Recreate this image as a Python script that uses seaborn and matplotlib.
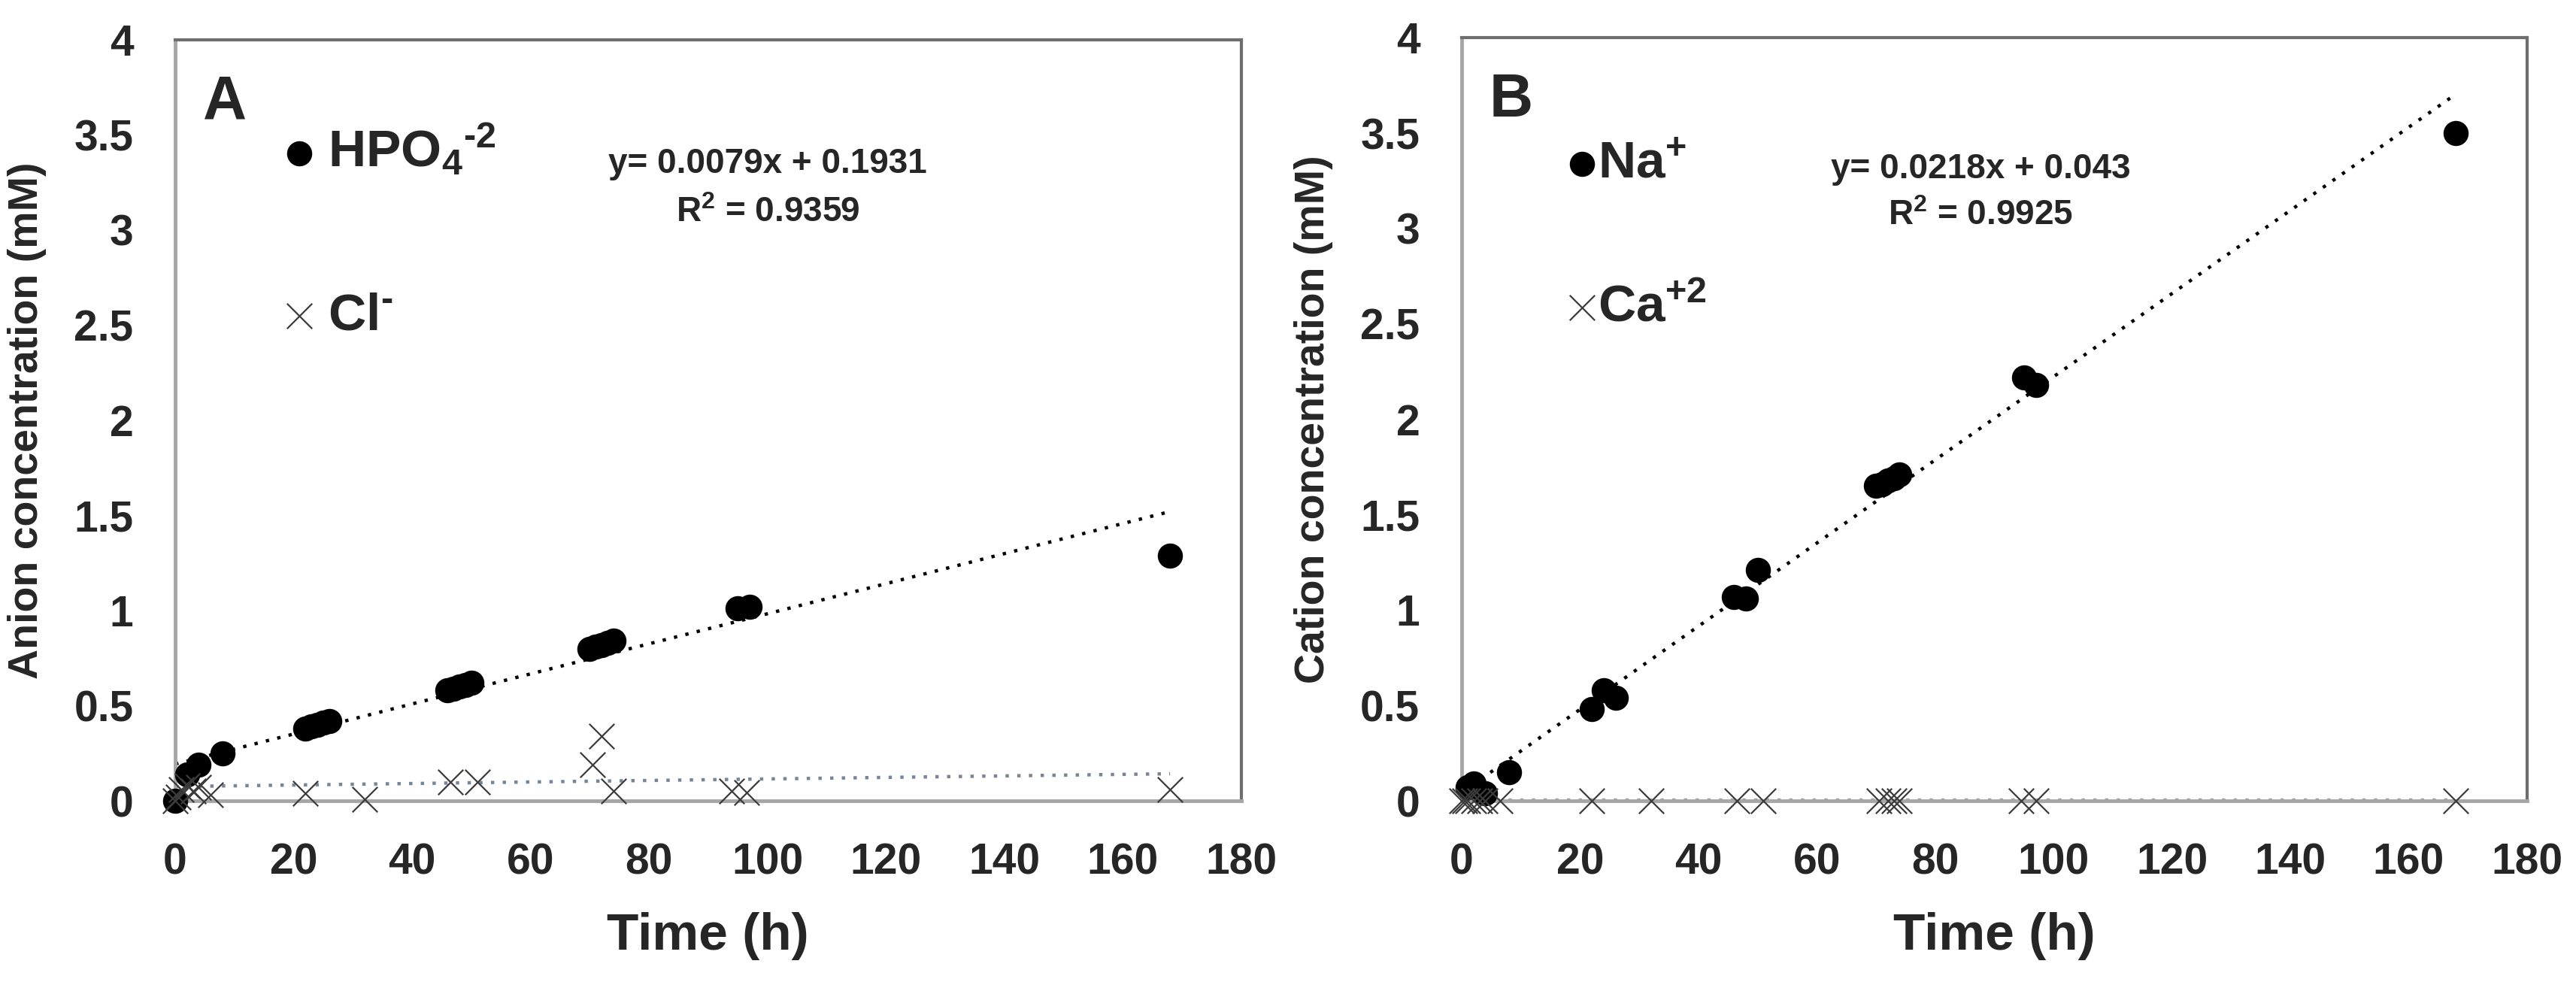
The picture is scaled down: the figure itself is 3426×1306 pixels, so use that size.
#two panel chart: anion (A) and cation (B) release over time with excel style trendlines
import numpy as np
import matplotlib
matplotlib.use('Agg')
import matplotlib.pyplot as plt
import seaborn as sns

#sampling times (h) and concentrations (mM)
hpo4_time = [0, 2, 4, 8, 22, 23, 24, 25, 26, 46, 47, 48, 49, 50, 70, 71, 72, 73, 74, 95, 97, 168]
hpo4_conc = [0.0, 0.14, 0.19, 0.25, 0.38, 0.39, 0.40, 0.41, 0.42, 0.58, 0.59, 0.60, 0.61, 0.62,
             0.80, 0.81, 0.82, 0.83, 0.84, 1.01, 1.02, 1.29]

cl_time = [0, 0.5, 1, 2, 3, 4, 6, 22, 32, 46.5, 51, 70.5, 72, 74, 94, 96.5, 168]
cl_conc = [0.0, 0.02, 0.06, 0.08, 0.05, 0.07, 0.03, 0.04, 0.01, 0.10, 0.10, 0.19, 0.34, 0.05,
           0.05, 0.045, 0.06]

na_time = [1, 2, 4, 8, 22, 24, 26, 46, 48, 50, 70, 71, 72, 73, 74, 95, 97, 168]
na_conc = [0.07, 0.09, 0.04, 0.15, 0.48, 0.58, 0.54, 1.07, 1.06, 1.21, 1.65, 1.66, 1.68, 1.69, 1.71,
           2.22, 2.18, 3.50]

ca_time = [0, 0.5, 1, 2, 3, 4, 6.5, 22, 32, 46.5, 51, 70.5, 72, 73, 74, 94.5, 97, 168]
ca_conc = [0.0, 0.0, 0.0, 0.0, 0.0, 0.0, 0.0, 0.0, 0.0, 0.0, 0.0, 0.0, 0.0, 0.0, 0.0, 0.0, 0.0, 0.0]

#trendlines as (slope, intercept), first two are printed on the chart
hpo4_fit = (0.0079, 0.1931)
na_fit = (0.0218, 0.043)
cl_fit = (0.0004, 0.075)
ca_fit = (0.0, 0.003)
fit_start, fit_end = 0, 168

x_ticks = [0, 20, 40, 60, 80, 100, 120, 140, 160, 180]
y_ticks = [0, 0.5, 1, 1.5, 2, 2.5, 3, 3.5, 4]
y_tick_labels = ['0', '0.5', '1', '1.5', '2', '2.5', '3', '3.5', '4']

#style
sns.set_style('white')
plt.rcParams['font.family'] = ['Liberation Sans', 'DejaVu Sans']
plt.rcParams['font.weight'] = 'bold'
plt.rcParams['mathtext.fontset'] = 'custom'
plt.rcParams['mathtext.rm'] = 'Liberation Sans:bold'
plt.rcParams['mathtext.it'] = 'Liberation Sans:bold'
plt.rcParams['mathtext.bf'] = 'Liberation Sans:bold'
plt.rcParams['mathtext.default'] = 'rm'

fig = plt.figure(figsize=(34.26, 13.06), dpi=100)
fig.patch.set_facecolor('white')

#short hyphen instead of the long math minus, like the excel labels
hy = '\u2010'

panels = [
    dict(rect=[0.068, 0.1845, 0.4138, 0.775], letter='A',
         ylabel='Anion concentration (mM)',
         dots=(hpo4_time, hpo4_conc, r'HPO$_4$$^{' + hy + '2}$', hpo4_fit, 'black'),
         xs=(cl_time, cl_conc, r'Cl$^{' + hy + '}$', cl_fit, '#75869a'),
         eq=('y= 0.0079x + 0.1931', r'R$^2$ = 0.9359'), eq_x=0.556, eq_y=(0.837, 0.773),
         leg=(0.104, 0.892), textpad=0.3, spacing=2.2),
    dict(rect=[0.5674, 0.1845, 0.4136, 0.777], letter='B',
         ylabel='Cation concentration (mM)',
         dots=(na_time, na_conc, r'Na$^{+}$', na_fit, 'black'),
         xs=(ca_time, ca_conc, r'Ca$^{+2}$', ca_fit, '#a0a0a0'),
         eq=('y= 0.0218x + 0.043', r'R$^2$ = 0.9925'), eq_x=0.487, eq_y=(0.828, 0.767),
         leg=(0.101, 0.866), textpad=0.05, spacing=1.83),
]

for p in panels:
    ax = fig.add_axes(p['rect'])

    #trendlines go under the markers
    fit_x = np.array([fit_start, fit_end])
    for series, lw, dash in ((p['dots'], 3.2, (1, 2.5)), (p['xs'], 3.2, (1, 2.5))):
        slope, intercept = series[3]
        ax.plot(fit_x, slope * fit_x + intercept, color=series[4], lw=lw,
                linestyle=(0, dash), dash_capstyle='butt', zorder=2)

    t, c, lab = p['dots'][0], p['dots'][1], p['dots'][2]
    sns.scatterplot(x=t, y=c, ax=ax, marker='o', s=580, color='black', edgecolor='black',
                    linewidth=0, label=lab, clip_on=False, zorder=3)
    t, c, lab = p['xs'][0], p['xs'][1], p['xs'][2]
    sns.scatterplot(x=t, y=c, ax=ax, marker='x', s=580, color='#3c3c3c',
                    linewidth=1.6, label=lab, clip_on=False, zorder=4)

    ax.set_xlim(0, 180)
    ax.set_ylim(0, 4)
    ax.set_xticks(x_ticks)
    ax.set_yticks(y_ticks)
    ax.set_yticklabels(y_tick_labels)
    ax.tick_params(axis='both', length=0, labelsize=41, pad=40)
    for lbl in ax.get_xticklabels() + ax.get_yticklabels():
        lbl.set_fontweight('bold')

    ax.set_xlabel('Time (h)', fontsize=50, fontweight='bold', labelpad=28)
    ax.set_ylabel(p['ylabel'], fontsize=40, fontweight='bold', labelpad=26)

    for side in ['left', 'bottom']:
        ax.spines[side].set_color('#a6a6a6')
        ax.spines[side].set_linewidth(3.5)
    for side in ['top', 'right']:
        ax.spines[side].set_color('#6e6e6e')
        ax.spines[side].set_linewidth(3.0)
    ax.grid(False)

    ax.text(0.026, 0.955, p['letter'], transform=ax.transAxes, fontsize=58,
            fontweight='bold', ha='left', va='top')

    ax.text(p['eq_x'], p['eq_y'][0], p['eq'][0], transform=ax.transAxes, fontsize=33,
            fontweight='bold', ha='center', va='center')
    ax.text(p['eq_x'], p['eq_y'][1], p['eq'][1], transform=ax.transAxes, fontsize=33,
            fontweight='bold', ha='center', va='center')

    leg = ax.legend(loc='upper left', bbox_to_anchor=p['leg'], frameon=False,
                    fontsize=50, handlelength=0.5, handletextpad=p['textpad'],
                    labelspacing=p['spacing'], borderpad=0, borderaxespad=0)
    for txt in leg.get_texts():
        txt.set_fontweight('bold')

fig.savefig('out.png', dpi=100, facecolor='white')
